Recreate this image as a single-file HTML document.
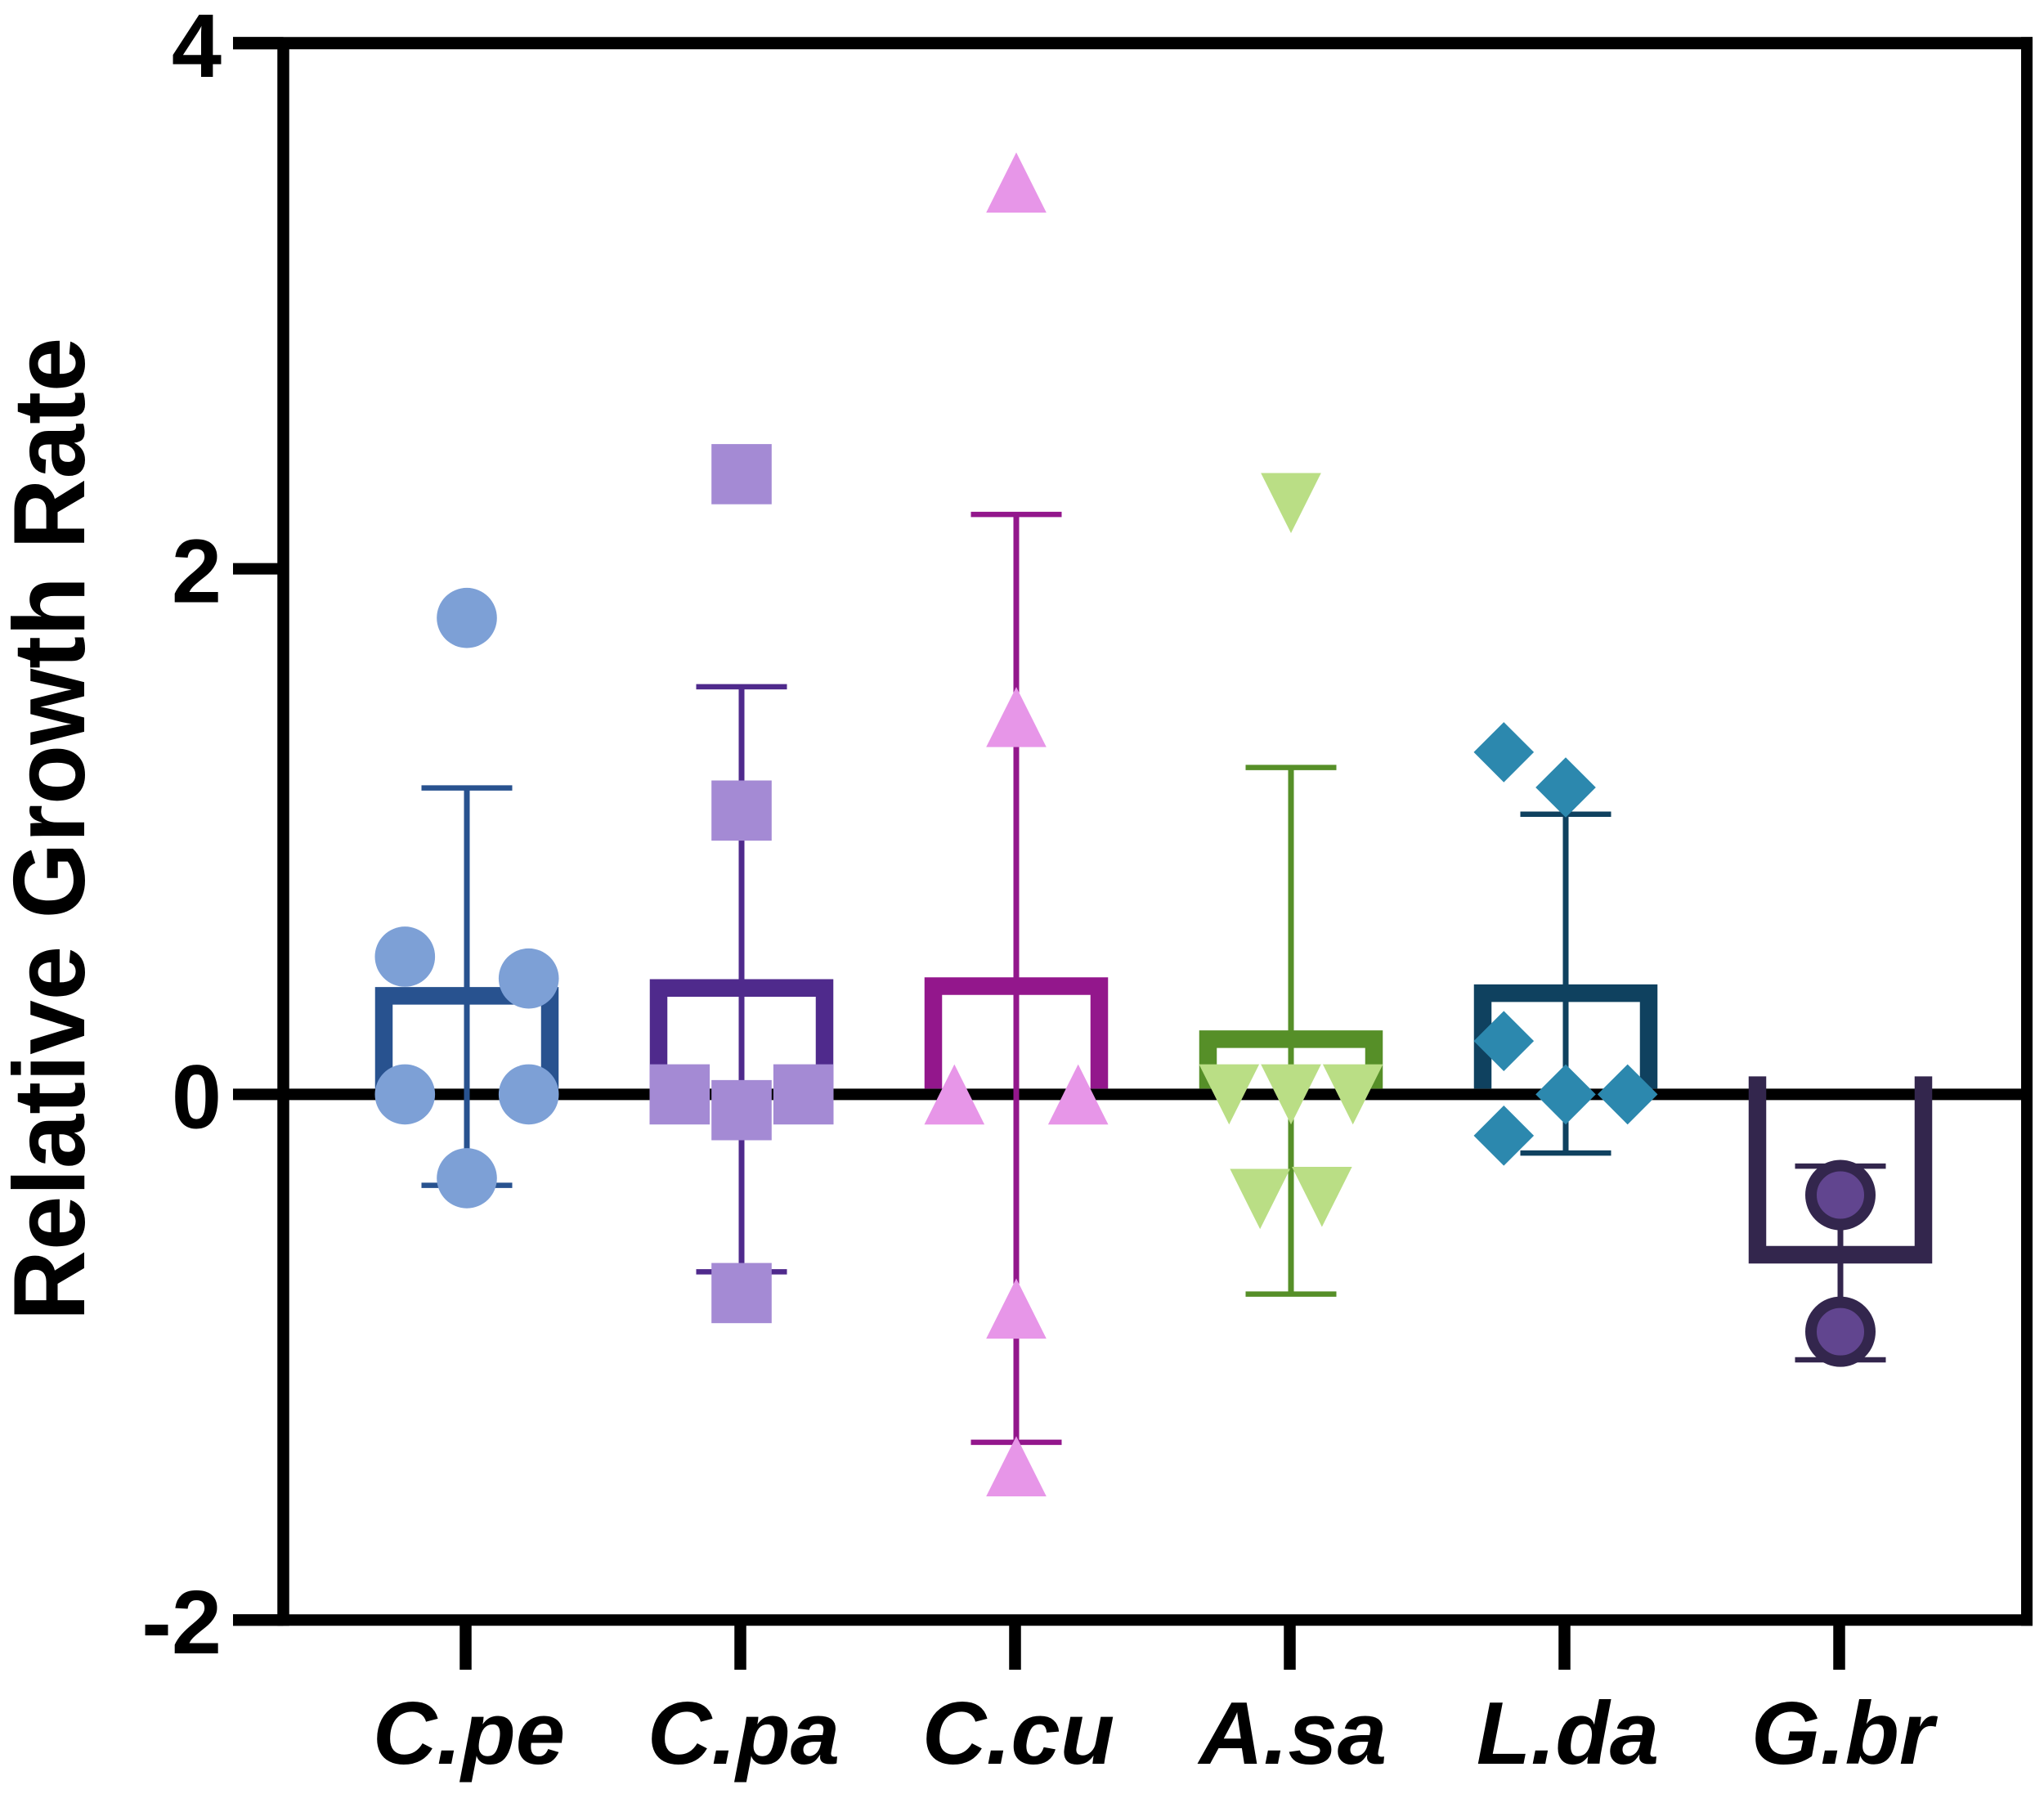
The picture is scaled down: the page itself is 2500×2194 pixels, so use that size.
<!DOCTYPE html>
<html lang="en">
<head>
<meta charset="utf-8">
<title>Relative Growth Rate</title>
<style>
html,body{margin:0;padding:0;background:#fff;}
svg{display:block;}
text{font-family:"Liberation Sans",Arial,sans-serif;font-weight:bold;fill:#000;}
</style>
</head>
<body>
<svg id="chart" xmlns="http://www.w3.org/2000/svg" width="2500" height="2194" viewBox="0 0 2500 2194">
<rect x="0" y="0" width="2500" height="2194" fill="#ffffff"/>
<text transform="translate(103,1014) rotate(-90) scale(1,1.04)" text-anchor="middle" font-size="119.6">Relative Growth Rate</text>
</svg>
<script>
const categories = ['C.pe', 'C.pa', 'C.cu', 'A.sa', 'L.da', 'G.br'];
const yTicks = [4, 2, 0, -2];
const meanValues = [0.375, 0.405, 0.412, 0.21, 0.385, -0.61];
const errorUpper = [1.166, 1.551, 2.207, 1.244, 1.066, -0.273];
const errorLower = [-0.346, -0.675, -1.324, -0.76, -0.223, -1.01];
const cpeValues = [1.813, 0.524, 0.441, 0, 0, -0.319];
const cpaValues = [2.36, 1.08, 0, -0.06, 0, -0.756];
const ccuValues = [3.47, 1.436, 0, 0, -0.815, -1.415];
const asaValues = [2.25, 0, 0, 0, -0.398, -0.39];
const ldaValues = [1.302, 1.168, 0.203, 0, 0, -0.157];
const gbrValues = [-0.383, -0.903];
const cpeSlots = [0, -1, 1, -1, 1, 0];
const cpaSlots = [0, 0, -1, 0, 1, 0];
const ccuSlots = [0, 0, -1, 1, 0, 0];
const asaSlots = [0, -1, 0, 1, -0.5, 0.5];
const ldaSlots = [-1, 0, -1, 0, 1, -1];
const gbrSlots = [0, 0];

const svg = document.getElementById('chart');
const NS = 'http://www.w3.org/2000/svg';
function yScale(v) { return 1338.4 - 321.4 * v; }
function tickX(i) { return 569.5 + 336 * i; }
function barX(i) { return 571 + 336 * i; }
const SLOT = 75.7;
function mk(tag, attrs) {
  const el = document.createElementNS(NS, tag);
  for (const k in attrs) el.setAttribute(k, attrs[k]);
  svg.appendChild(el);
  return el;
}
function slug(s) { return s.replace('.', '').toLowerCase(); }

const LEFT = 346.5, RIGHT = 2479, AXIS_W = 14.5;

/* y axis ticks + labels */
yTicks.forEach(function (t) {
  const y = yScale(t);
  const tick = mk('line', { x1: 285, x2: LEFT, y1: y, y2: y, stroke: '#000', 'stroke-width': t === 4 ? 15 : 14 });
  
  
  const label = mk('text', { x: 271, y: y + 41, 'text-anchor': 'end', 'font-size': 110 });
  label.textContent = String(t);
  
  
});

/* frame */
const yTop = yScale(4), yBottom = yScale(-2);
const leftAxis = mk('line', { x1: LEFT, x2: LEFT, y1: yTop, y2: yBottom + 7, stroke: '#000', 'stroke-width': AXIS_W });


const rightAxis = mk('line', { x1: RIGHT, x2: RIGHT, y1: yTop - 7.5, y2: yBottom + 7, stroke: '#000', 'stroke-width': 14 });


const topAxis = mk('line', { x1: 285, x2: RIGHT + 7, y1: yTop, y2: yTop, stroke: '#000', 'stroke-width': 15 });


const bottomAxis = mk('line', { x1: 285, x2: RIGHT + 7, y1: yBottom, y2: yBottom, stroke: '#000', 'stroke-width': 14 });


const zeroLine = mk('line', { x1: LEFT, x2: RIGHT, y1: yScale(0), y2: yScale(0), stroke: '#000', 'stroke-width': 14 });



/* x axis ticks + labels */
categories.forEach(function (c, i) {
  const tick = mk('line', { x1: tickX(i), x2: tickX(i), y1: yBottom, y2: 2042, stroke: '#000', 'stroke-width': 14.5 });
  
  
  const label = mk('text', { x: tickX(i) + 4, y: 2157, 'text-anchor': 'middle', 'font-size': 108.6, 'font-style': 'italic' });
  label.textContent = c;
  
  
});

/* bars */
const barColors = ['#28528f', '#4f2a8c', '#93178c', '#568f28', '#0f415f', '#33264d'];
const markerColors = ['#7da0d6', '#a48ad4', '#e796e8', '#bade85', '#2c88ae', '#61458f'];
const markerShapes = ['circle', 'square', 'up', 'down', 'diamond', 'ringed'];
const allValues = [cpeValues, cpaValues, ccuValues, asaValues, ldaValues, gbrValues];
const allSlots = [cpeSlots, cpaSlots, ccuSlots, asaSlots, ldaSlots, gbrSlots];

categories.forEach(function (c, i) {
  const cx = barX(i), hw = 101.5;
  const yv = yScale(meanValues[i]);
  const y0 = yScale(0);
  const base = meanValues[i] >= 0 ? y0 - 7 : y0 - 22;
  const bar = mk('path', {
    d: 'M' + (cx - hw) + ' ' + base + 'V' + yv + 'H' + (cx + hw) + 'V' + base,
    fill: 'none', stroke: barColors[i], 'stroke-width': 21.5, 'stroke-linejoin': 'miter'
  });
  
  

  const stem = mk('line', { x1: cx, x2: cx, y1: yScale(errorUpper[i]), y2: yScale(errorLower[i]), stroke: barColors[i], 'stroke-width': 7 });
  
  
  const capU = mk('line', { x1: cx - 55.5, x2: cx + 55.5, y1: yScale(errorUpper[i]), y2: yScale(errorUpper[i]), stroke: barColors[i], 'stroke-width': 6.5 });
  
  
  const capL = mk('line', { x1: cx - 55.5, x2: cx + 55.5, y1: yScale(errorLower[i]), y2: yScale(errorLower[i]), stroke: barColors[i], 'stroke-width': 6.5 });
  
  
});

/* points */
categories.forEach(function (c, i) {
  const vals = allValues[i], slots = allSlots[i], col = markerColors[i], shape = markerShapes[i];
  vals.forEach(function (v, j) {
    const x = barX(i) + slots[j] * SLOT;
    const y = yScale(v);
    const R = 36.8;
    let el;
    if (shape === 'circle') {
      el = mk('circle', { cx: x, cy: y, r: R, fill: col });
    } else if (shape === 'ringed') {
      el = mk('circle', { cx: x, cy: y, r: 36, fill: col, stroke: barColors[i], 'stroke-width': 14 });
    } else if (shape === 'square') {
      el = mk('rect', { x: x - R, y: y - R, width: 2 * R, height: 2 * R, fill: col });
    } else if (shape === 'up') {
      el = mk('polygon', { points: x + ',' + (y - R) + ' ' + (x + R) + ',' + (y + R) + ' ' + (x - R) + ',' + (y + R), fill: col });
    } else if (shape === 'down') {
      el = mk('polygon', { points: x + ',' + (y + R) + ' ' + (x + R) + ',' + (y - R) + ' ' + (x - R) + ',' + (y - R), fill: col });
    } else {
      el = mk('polygon', { points: x + ',' + (y - R) + ' ' + (x + R) + ',' + y + ' ' + x + ',' + (y + R) + ' ' + (x - R) + ',' + y, fill: col });
    }
    
    
  });
});
</script>
</body>
</html>
